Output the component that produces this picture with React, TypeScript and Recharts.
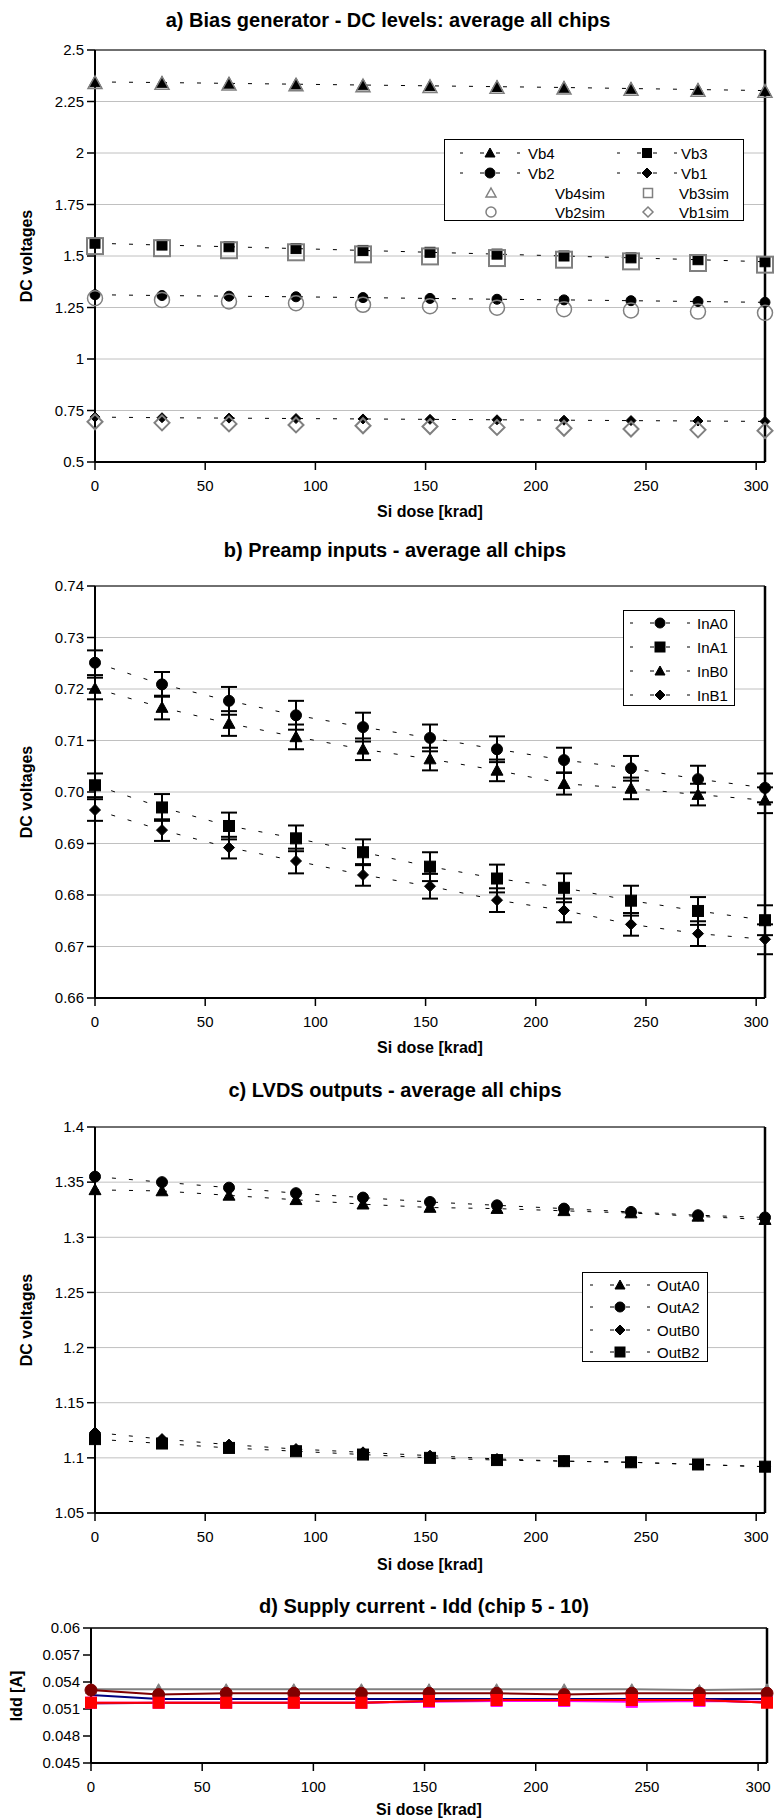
import React from "react";
import {
  CartesianGrid,
  ComposedChart,
  ErrorBar,
  Line,
  ReferenceLine,
  XAxis,
  YAxis,
} from "recharts";

const FONT = '"Liberation Sans", Arial, sans-serif';

// x positions of the measurements (krad)
const doses = [0, 30.4, 60.8, 91.2, 121.6, 152, 182.4, 212.8, 243.2, 273.6, 304];
const doseTicks = [0, 50, 100, 150, 200, 250, 300];

// a) bias generator
const vb4 = [2.345, 2.342, 2.338, 2.334, 2.33, 2.326, 2.322, 2.318, 2.313, 2.308, 2.303];
const vb3 = [1.562, 1.553, 1.545, 1.536, 1.527, 1.518, 1.509, 1.5, 1.491, 1.482, 1.472];
const vb2 = [1.312, 1.308, 1.305, 1.302, 1.298, 1.294, 1.29, 1.287, 1.283, 1.279, 1.275];
const vb1 = [0.718, 0.715, 0.713, 0.711, 0.709, 0.707, 0.705, 0.703, 0.701, 0.699, 0.697];
const vb4sim = [2.34, 2.337, 2.333, 2.329, 2.325, 2.321, 2.317, 2.313, 2.308, 2.303, 2.298];
const vb3sim = [1.548, 1.538, 1.528, 1.518, 1.508, 1.498, 1.49, 1.482, 1.474, 1.466, 1.458];
const vb2sim = [1.295, 1.287, 1.279, 1.271, 1.263, 1.256, 1.249, 1.242, 1.236, 1.23, 1.224];
const vb1sim = [0.695, 0.69, 0.685, 0.68, 0.676, 0.672, 0.668, 0.664, 0.66, 0.656, 0.652];
const biasTicks = [0.5, 0.75, 1, 1.25, 1.5, 1.75, 2, 2.25, 2.5];

// b) preamp inputs
const inA0 = [0.7251, 0.7209, 0.7177, 0.7149, 0.7126, 0.7105, 0.7083, 0.7062, 0.7046, 0.7025, 0.7008];
const inA1 = [0.7013, 0.697, 0.6934, 0.691, 0.6883, 0.6855, 0.6832, 0.6814, 0.6789, 0.6769, 0.6751];
const inB0 = [0.7201, 0.7164, 0.7133, 0.7107, 0.7083, 0.7064, 0.7042, 0.7016, 0.7007, 0.6995, 0.6984];
const inB1 = [0.6965, 0.6926, 0.6892, 0.6866, 0.6839, 0.6817, 0.679, 0.677, 0.6743, 0.6725, 0.6714];
const errA0 = [0.0024, 0.0024, 0.0027, 0.0028, 0.0028, 0.0026, 0.0025, 0.0024, 0.0024, 0.0026, 0.0028];
const errA1 = [0.0023, 0.0026, 0.0026, 0.0025, 0.0025, 0.0028, 0.0027, 0.0028, 0.0029, 0.0027, 0.0029];
const errB0 = [0.0021, 0.0023, 0.0024, 0.0024, 0.0021, 0.0022, 0.0021, 0.0021, 0.0021, 0.0021, 0.0025];
const errB1 = [0.0021, 0.0021, 0.0021, 0.0024, 0.0021, 0.0024, 0.0023, 0.0023, 0.0022, 0.0024, 0.0029];
const preampTicks = [0.66, 0.67, 0.68, 0.69, 0.7, 0.71, 0.72, 0.73, 0.74];

// c) LVDS outputs
const outA0 = [1.343, 1.342, 1.338, 1.334, 1.33, 1.327, 1.326, 1.324, 1.322, 1.319, 1.316];
const outA2 = [1.355, 1.35, 1.345, 1.34, 1.336, 1.332, 1.329, 1.326, 1.323, 1.32, 1.318];
const outB0 = [1.123, 1.117, 1.112, 1.108, 1.105, 1.102, 1.099, 1.097, 1.096, 1.094, 1.092];
const outB2 = [1.117, 1.113, 1.109, 1.106, 1.103, 1.1, 1.098, 1.097, 1.096, 1.094, 1.092];
const lvdsTicks = [1.05, 1.1, 1.15, 1.2, 1.25, 1.3, 1.35, 1.4];

// d) supply current, chips 5 - 10
const chip5 = [0.05255, 0.0521, 0.0521, 0.0521, 0.0521, 0.0521, 0.0521, 0.0521, 0.0521, 0.0521, 0.0521];
const chip6 = [0.0517, 0.0517, 0.0517, 0.0517, 0.0517, 0.0518, 0.0519, 0.0519, 0.0518, 0.0519, 0.0518];
const chip7 = [0.0532, 0.0532, 0.0532, 0.0532, 0.0532, 0.0532, 0.0532, 0.0532, 0.0532, 0.0531, 0.0532];
const chip8 = [0.0516, 0.0517, 0.0517, 0.0517, 0.0517, 0.0519, 0.052, 0.052, 0.052, 0.052, 0.0517];
const chip9 = [0.0531, 0.0526, 0.05275, 0.05275, 0.05275, 0.05275, 0.05275, 0.0526, 0.05275, 0.05275, 0.05275];
const chip10 = [0.0517, 0.0517, 0.0517, 0.0517, 0.0517, 0.0519, 0.052, 0.052, 0.052, 0.052, 0.0517];
const iddTicks = [0.045, 0.048, 0.051, 0.054, 0.057, 0.06];

const biasRows = doses.map((dose, i) => ({
  dose,
  vb4: vb4[i],
  vb3: vb3[i],
  vb2: vb2[i],
  vb1: vb1[i],
  vb4sim: vb4sim[i],
  vb3sim: vb3sim[i],
  vb2sim: vb2sim[i],
  vb1sim: vb1sim[i],
}));

const preampRows = doses.map((dose, i) => ({
  dose,
  inA0: inA0[i],
  inA1: inA1[i],
  inB0: inB0[i],
  inB1: inB1[i],
  errA0: errA0[i],
  errA1: errA1[i],
  errB0: errB0[i],
  errB1: errB1[i],
}));

const lvdsRows = doses.map((dose, i) => ({
  dose,
  outA0: outA0[i],
  outA2: outA2[i],
  outB0: outB0[i],
  outB2: outB2[i],
}));

const iddRows = doses.map((dose, i) => ({
  dose,
  chip5: chip5[i],
  chip6: chip6[i],
  chip7: chip7[i],
  chip8: chip8[i],
  chip9: chip9[i],
  chip10: chip10[i],
}));

type Shape = "triangle" | "square" | "circle" | "diamond" | "cross";

function Marker({
  cx,
  cy,
  shape,
  size,
  fill,
  stroke,
  sw = 1,
}: {
  cx: number;
  cy: number;
  shape: Shape;
  size: number;
  fill: string;
  stroke: string;
  sw?: number;
}) {
  const h = size / 2;
  if (shape === "circle") {
    return <circle cx={cx} cy={cy} r={h} fill={fill} stroke={stroke} strokeWidth={sw} />;
  }
  if (shape === "square") {
    return <rect x={cx - h} y={cy - h} width={size} height={size} fill={fill} stroke={stroke} strokeWidth={sw} />;
  }
  if (shape === "triangle") {
    return (
      <polygon
        points={`${cx},${cy - h} ${cx + h},${cy + h * 0.8} ${cx - h},${cy + h * 0.8}`}
        fill={fill}
        stroke={stroke}
        strokeWidth={sw}
      />
    );
  }
  if (shape === "diamond") {
    return (
      <polygon
        points={`${cx},${cy - h} ${cx + h},${cy} ${cx},${cy + h} ${cx - h},${cy}`}
        fill={fill}
        stroke={stroke}
        strokeWidth={sw}
      />
    );
  }
  return (
    <g stroke={stroke} strokeWidth={sw}>
      <line x1={cx - h} y1={cy - h} x2={cx + h} y2={cy + h} />
      <line x1={cx - h} y1={cy + h} x2={cx + h} y2={cy - h} />
    </g>
  );
}

const dot =
  (shape: Shape, size: number, fill: string, stroke: string, sw = 1) =>
  (p: any) => {
    const key = `${p.dataKey}-${p.index}`;
    if (p.cx == null || p.cy == null) return <g key={key} />;
    return (
      <g key={key}>
        <Marker cx={p.cx} cy={p.cy} shape={shape} size={size} fill={fill} stroke={stroke} sw={sw} />
      </g>
    );
  };

const tickStyle = { fontSize: 15, fill: "#000", fontFamily: FONT };
const axisLine = { stroke: "#000", strokeWidth: 2 };
const tickLine = { stroke: "#000", strokeWidth: 1.5 };
const DASH = "4 13";

function Label({
  x,
  y,
  text,
  size = 16,
  bold = true,
  rotate = false,
}: {
  x: number;
  y: number;
  text: string;
  size?: number;
  bold?: boolean;
  rotate?: boolean;
}) {
  return (
    <div
      style={{
        position: "absolute",
        left: x,
        top: y,
        transform: `translate(-50%, -50%)${rotate ? " rotate(-90deg)" : ""}`,
        fontFamily: FONT,
        fontSize: size,
        fontWeight: bold ? "bold" : "normal",
        whiteSpace: "nowrap",
        lineHeight: 1,
        color: "#000",
      }}
    >
      {text}
    </div>
  );
}

type LegendItem = {
  label: string;
  shape: Shape;
  x: number; // marker centre in the legend box
  y: number;
  textX: number;
  line?: boolean;
  size?: number;
  fill?: string;
  stroke?: string;
  sw?: number;
};

function LegendBox({
  left,
  top,
  width,
  height,
  items,
}: {
  left: number;
  top: number;
  width: number;
  height: number;
  items: LegendItem[];
}) {
  return (
    <svg
      width={width}
      height={height}
      style={{ position: "absolute", left, top, background: "#fff" }}
    >
      <rect x={0.5} y={0.5} width={width - 1} height={height - 1} fill="#fff" stroke="#000" strokeWidth={1} />
      {items.map((it) => (
        <g key={it.label}>
          {it.line &&
            [
              [-30, -27],
              [-10, -6],
              [6, 10],
              [27, 30],
            ].map(([a, b]) => (
              <line key={a} x1={it.x + a} x2={it.x + b} y1={it.y} y2={it.y} stroke="#000" strokeWidth={1} />
            ))}
          <Marker
            cx={it.x}
            cy={it.y}
            shape={it.shape}
            size={it.size ?? 10}
            fill={it.fill ?? "#000"}
            stroke={it.stroke ?? "#000"}
            sw={it.sw ?? 1}
          />
          <text x={it.textX} y={it.y + 5.5} fontSize={15} fontFamily={FONT} fill="#000">
            {it.label}
          </text>
        </g>
      ))}
    </svg>
  );
}

const GRAY = "#808080";

export default function App() {
  return (
    <div
      style={{
        position: "absolute",
        left: 0,
        top: 0,
        width: 779,
        height: 1820,
        background: "#fff",
        overflow: "hidden",
      }}
    >
      {/* a) Bias generator */}
      <Label x={388} y={20} text="a) Bias generator - DC levels: average all chips" size={20} />
      <div style={{ position: "absolute", left: 0, top: 40 }}>
        <ComposedChart width={779} height={462} data={biasRows} margin={{ top: 10, right: 14, bottom: 0, left: 0 }}>
          <CartesianGrid vertical={false} stroke="#c0c0c0" />
          <XAxis
            type="number"
            dataKey="dose"
            domain={[0, 304]}
            ticks={doseTicks}
            interval={0}
            tick={tickStyle}
            tickSize={8}
            tickMargin={10}
            axisLine={axisLine}
            tickLine={tickLine}
            height={40}
          />
          <YAxis
            type="number"
            domain={[0.5, 2.5]}
            ticks={biasTicks}
            interval={0}
            tick={tickStyle}
            tickSize={8}
            tickMargin={3}
            axisLine={axisLine}
            tickLine={tickLine}
            width={95}
          />
          <ReferenceLine y={2.5} stroke="#000" strokeWidth={1.2} />
          <ReferenceLine x={304} stroke="#000" strokeWidth={2.5} />
          <Line dataKey="vb4" stroke="#000" strokeWidth={1} strokeDasharray={DASH} dot={dot("triangle", 12, "#000", "#000")} activeDot={false} isAnimationActive={false} />
          <Line dataKey="vb3" stroke="#000" strokeWidth={1} strokeDasharray={DASH} dot={dot("square", 10, "#000", "#000")} activeDot={false} isAnimationActive={false} />
          <Line dataKey="vb2" stroke="#000" strokeWidth={1} strokeDasharray={DASH} dot={dot("circle", 10, "#000", "#000")} activeDot={false} isAnimationActive={false} />
          <Line dataKey="vb1" stroke="#000" strokeWidth={1} strokeDasharray={DASH} dot={dot("diamond", 10, "#000", "#000")} activeDot={false} isAnimationActive={false} />
          <Line dataKey="vb4sim" stroke="none" dot={dot("triangle", 14, "none", GRAY, 1.5)} activeDot={false} isAnimationActive={false} />
          <Line dataKey="vb3sim" stroke="none" dot={dot("square", 16, "none", GRAY, 2)} activeDot={false} isAnimationActive={false} />
          <Line dataKey="vb2sim" stroke="none" dot={dot("circle", 15, "none", GRAY, 1.5)} activeDot={false} isAnimationActive={false} />
          <Line dataKey="vb1sim" stroke="none" dot={dot("diamond", 15, "none", GRAY, 2)} activeDot={false} isAnimationActive={false} />
        </ComposedChart>
      </div>
      <Label x={27} y={256} text="DC voltages" rotate />
      <Label x={430} y={512} text="Si dose [krad]" />
      <LegendBox
        left={444}
        top={139}
        width={300}
        height={82}
        items={[
          { label: "Vb4", shape: "triangle", x: 46, y: 14, textX: 84, line: true },
          { label: "Vb3", shape: "square", x: 203, y: 14, textX: 237, line: true, size: 9 },
          { label: "Vb2", shape: "circle", x: 46, y: 34, textX: 84, line: true },
          { label: "Vb1", shape: "diamond", x: 203, y: 34, textX: 237, line: true },
          { label: "Vb4sim", shape: "triangle", x: 47, y: 54, textX: 111, fill: "none", stroke: GRAY, sw: 1.5, size: 10 },
          { label: "Vb3sim", shape: "square", x: 204, y: 54, textX: 235, fill: "none", stroke: GRAY, sw: 1.5, size: 9 },
          { label: "Vb2sim", shape: "circle", x: 47, y: 73, textX: 111, fill: "none", stroke: GRAY, sw: 1.5, size: 10 },
          { label: "Vb1sim", shape: "diamond", x: 204, y: 73, textX: 235, fill: "none", stroke: GRAY, sw: 1.5, size: 10 },
        ]}
      />

      {/* b) Preamp inputs */}
      <Label x={395} y={550} text="b) Preamp inputs - average all chips" size={20} />
      <div style={{ position: "absolute", left: 0, top: 576 }}>
        <ComposedChart width={779} height={462} data={preampRows} margin={{ top: 10, right: 14, bottom: 0, left: 0 }}>
          <CartesianGrid vertical={false} stroke="#c0c0c0" />
          <XAxis
            type="number"
            dataKey="dose"
            domain={[0, 304]}
            ticks={doseTicks}
            interval={0}
            tick={tickStyle}
            tickSize={8}
            tickMargin={10}
            axisLine={axisLine}
            tickLine={tickLine}
            height={40}
          />
          <YAxis
            type="number"
            domain={[0.66, 0.74]}
            ticks={preampTicks}
            interval={0}
            tickFormatter={(v: number) => v.toFixed(2)}
            tick={tickStyle}
            tickSize={8}
            tickMargin={3}
            axisLine={axisLine}
            tickLine={tickLine}
            width={95}
          />
          <ReferenceLine y={0.74} stroke="#000" strokeWidth={1.2} />
          <ReferenceLine x={304} stroke="#000" strokeWidth={2.5} />
          <Line dataKey="inA0" stroke="#000" strokeWidth={1} strokeDasharray={DASH} dot={dot("circle", 11, "#000", "#000")} activeDot={false} isAnimationActive={false}>
            <ErrorBar dataKey="errA0" direction="y" width={8} stroke="#000" strokeWidth={2} />
          </Line>
          <Line dataKey="inA1" stroke="#000" strokeWidth={1} strokeDasharray={DASH} dot={dot("square", 11, "#000", "#000")} activeDot={false} isAnimationActive={false}>
            <ErrorBar dataKey="errA1" direction="y" width={8} stroke="#000" strokeWidth={2} />
          </Line>
          <Line dataKey="inB0" stroke="#000" strokeWidth={1} strokeDasharray={DASH} dot={dot("triangle", 12, "#000", "#000")} activeDot={false} isAnimationActive={false}>
            <ErrorBar dataKey="errB0" direction="y" width={8} stroke="#000" strokeWidth={2} />
          </Line>
          <Line dataKey="inB1" stroke="#000" strokeWidth={1} strokeDasharray={DASH} dot={dot("diamond", 11, "#000", "#000")} activeDot={false} isAnimationActive={false}>
            <ErrorBar dataKey="errB1" direction="y" width={8} stroke="#000" strokeWidth={2} />
          </Line>
        </ComposedChart>
      </div>
      <Label x={27} y={792} text="DC voltages" rotate />
      <Label x={430} y={1048} text="Si dose [krad]" />
      <LegendBox
        left={623}
        top={610}
        width={112}
        height={96}
        items={[
          { label: "InA0", shape: "circle", x: 37, y: 13, textX: 74, line: true },
          { label: "InA1", shape: "square", x: 37, y: 37, textX: 74, line: true },
          { label: "InB0", shape: "triangle", x: 37, y: 61, textX: 74, line: true },
          { label: "InB1", shape: "diamond", x: 37, y: 85, textX: 74, line: true },
        ]}
      />

      {/* c) LVDS outputs */}
      <Label x={395} y={1090} text="c) LVDS outputs - average all chips" size={20} />
      <div style={{ position: "absolute", left: 0, top: 1117 }}>
        <ComposedChart width={779} height={436} data={lvdsRows} margin={{ top: 10, right: 14, bottom: 0, left: 0 }}>
          <CartesianGrid vertical={false} stroke="#c0c0c0" />
          <XAxis
            type="number"
            dataKey="dose"
            domain={[0, 304]}
            ticks={doseTicks}
            interval={0}
            tick={tickStyle}
            tickSize={8}
            tickMargin={10}
            axisLine={axisLine}
            tickLine={tickLine}
            height={40}
          />
          <YAxis
            type="number"
            domain={[1.05, 1.4]}
            ticks={lvdsTicks}
            interval={0}
            tickFormatter={(v: number) => String(+v.toFixed(2))}
            tick={tickStyle}
            tickSize={8}
            tickMargin={3}
            axisLine={axisLine}
            tickLine={tickLine}
            width={95}
          />
          <ReferenceLine y={1.4} stroke="#000" strokeWidth={1.2} />
          <ReferenceLine x={304} stroke="#000" strokeWidth={2.5} />
          <Line dataKey="outA0" stroke="#000" strokeWidth={1} strokeDasharray={DASH} dot={dot("triangle", 12, "#000", "#000")} activeDot={false} isAnimationActive={false} />
          <Line dataKey="outA2" stroke="#000" strokeWidth={1} strokeDasharray={DASH} dot={dot("circle", 11, "#000", "#000")} activeDot={false} isAnimationActive={false} />
          <Line dataKey="outB0" stroke="#000" strokeWidth={1} strokeDasharray={DASH} dot={dot("diamond", 11, "#000", "#000")} activeDot={false} isAnimationActive={false} />
          <Line dataKey="outB2" stroke="#000" strokeWidth={1} strokeDasharray={DASH} dot={dot("square", 11, "#000", "#000")} activeDot={false} isAnimationActive={false} />
        </ComposedChart>
      </div>
      <Label x={27} y={1320} text="DC voltages" rotate />
      <Label x={430} y={1565} text="Si dose [krad]" />
      <LegendBox
        left={582}
        top={1272}
        width={126}
        height={90}
        items={[
          { label: "OutA0", shape: "triangle", x: 38, y: 13, textX: 75, line: true },
          { label: "OutA2", shape: "circle", x: 38, y: 35, textX: 75, line: true },
          { label: "OutB0", shape: "diamond", x: 38, y: 58, textX: 75, line: true },
          { label: "OutB2", shape: "square", x: 38, y: 80, textX: 75, line: true },
        ]}
      />

      {/* d) Supply current */}
      <Label x={424} y={1606} text="d) Supply current - Idd (chip 5 - 10)" size={20} />
      <div style={{ position: "absolute", left: 0, top: 1618 }}>
        <ComposedChart width={779} height={185} data={iddRows} margin={{ top: 10, right: 12, bottom: 0, left: 0 }}>
          <XAxis
            type="number"
            dataKey="dose"
            domain={[0, 304]}
            ticks={doseTicks}
            interval={0}
            tick={tickStyle}
            tickSize={8}
            tickMargin={10}
            axisLine={axisLine}
            tickLine={tickLine}
            height={40}
          />
          <YAxis
            type="number"
            domain={[0.045, 0.06]}
            ticks={iddTicks}
            interval={0}
            tickFormatter={(v: number) => String(+v.toFixed(3))}
            tick={tickStyle}
            tickSize={8}
            tickMargin={3}
            axisLine={axisLine}
            tickLine={tickLine}
            width={91}
          />
          <ReferenceLine y={0.06} stroke="#000" strokeWidth={1.5} />
          <ReferenceLine x={304} stroke="#000" strokeWidth={2.5} />
          <Line dataKey="chip5" stroke="#000080" strokeWidth={2} dot={false} activeDot={false} isAnimationActive={false} />
          <Line dataKey="chip6" stroke="#FF00FF" strokeWidth={2} dot={dot("square", 11, "#FF00FF", "#FF00FF")} activeDot={false} isAnimationActive={false} />
          <Line dataKey="chip7" stroke={GRAY} strokeWidth={2} dot={dot("triangle", 11, GRAY, GRAY)} activeDot={false} isAnimationActive={false} />
          <Line dataKey="chip8" stroke="#800080" strokeWidth={2} dot={dot("cross", 9, "none", "#800080", 2)} activeDot={false} isAnimationActive={false} />
          <Line dataKey="chip9" stroke="#800000" strokeWidth={2} dot={dot("circle", 12, "#800000", "#800000")} activeDot={false} isAnimationActive={false} />
          <Line dataKey="chip10" stroke="#FF0000" strokeWidth={2} dot={dot("square", 11, "#FF0000", "#FF0000")} activeDot={false} isAnimationActive={false} />
        </ComposedChart>
      </div>
      <Label x={17} y={1696} text="Idd [A]" rotate />
      <Label x={429} y={1810} text="Si dose [krad]" />
    </div>
  );
}
